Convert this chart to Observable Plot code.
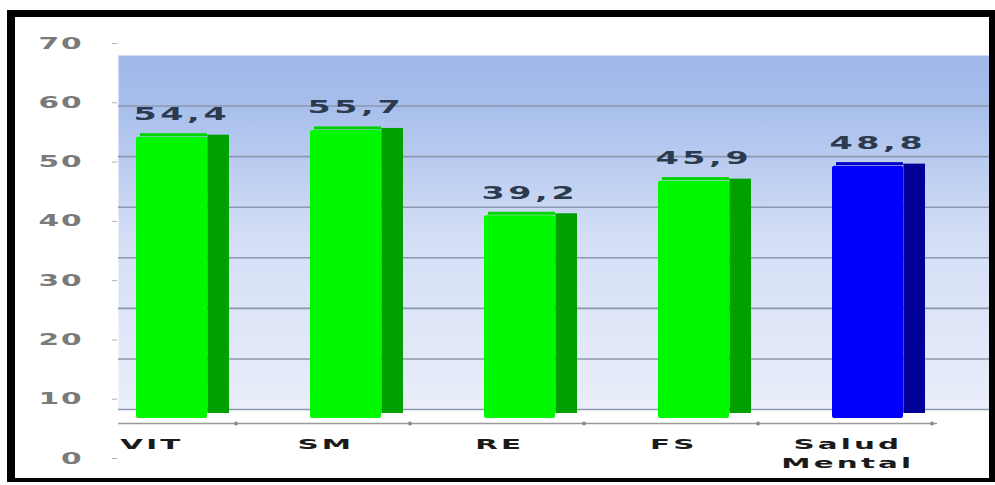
<!DOCTYPE html>
<html>
<head>
<meta charset="utf-8">
<script src="https://cdn.jsdelivr.net/npm/d3@7"></script>
<script src="https://cdn.jsdelivr.net/npm/@observablehq/plot@0.6"></script>
<style>
  html, body { margin: 0; padding: 0; background: #ffffff; }
  #chart { position: relative; width: 995px; height: 485px; overflow: hidden; background: #ffffff; }
  #chart svg { position: absolute; left: 0; top: 0; background: transparent; }
  #border { position: absolute; left: 7px; top: 10px; width: 974px; height: 461px;
            border-style: solid; border-color: #000; border-width: 7px 7px 4px 8px; }
</style>
</head>
<body>
<div id="chart"><div id="border"></div></div>
<script>
// ---- data ----
const categories = ["VIT", "SM", "RE", "FS", "Salud Mental"];
const values = [54.4, 55.7, 39.2, 45.9, 48.8];
const yTicks = [0, 10, 20, 30, 40, 50, 60, 70];
const gridValues = [0, 10, 20, 30, 40, 50, 60];
const highlight = "Salud Mental";

const data = categories.map((c, i) => ({cat: c, value: values[i]}));
const fmt = v => v.toFixed(1).replace(".", ",");

const W = 995, H = 485;
const FONT = "DejaVu Sans, sans-serif";

// widen glyphs around each text's own anchor (reference text is stretched horizontally)
function stretch(texts, factor, ls) {
  Array.from(texts).forEach(t => {
    if (ls) t.style.letterSpacing = ls + "px";
    const bb = t.getBBox();
    const anchor = getComputedStyle(t).textAnchor;
    const trail = ls || 0;
    const lx = anchor === "middle" ? bb.x + (bb.width - trail) / 2
             : anchor === "end" ? bb.x + bb.width - trail : bb.x;
    const ly = bb.y + bb.height / 2;
    let ax = lx;
    const list = t.transform && t.transform.baseVal;
    if (list && list.numberOfItems > 0) {
      const m = list.consolidate().matrix;
      ax = m.a * lx + m.c * ly + m.e;
    }
    const g = document.createElementNS("http://www.w3.org/2000/svg", "g");
    g.setAttribute("transform", `translate(${ax},0) scale(${factor},1) translate(${-ax},0)`);
    t.parentNode.insertBefore(g, t);
    g.appendChild(t);
  });
}

// ---- back wall (its own depth plane) ----
const wallDefs = () => {
  const defs = d3.create("svg:defs");
  const g = defs.append("linearGradient").attr("id", "wallGrad")
    .attr("x1", 0).attr("y1", 0).attr("x2", 0).attr("y2", 1);
  g.append("stop").attr("offset", "0%").attr("stop-color", "#9fb8ea");
  g.append("stop").attr("offset", "15%").attr("stop-color", "#a8bfec");
  g.append("stop").attr("offset", "50%").attr("stop-color", "#d2ddf5");
  g.append("stop").attr("offset", "100%").attr("stop-color", "#eaeefa");
  return defs.node();
};

const wall = Plot.plot({
  width: W, height: H,
  marginTop: 55, marginBottom: 76, marginLeft: 118, marginRight: 5,
  style: {background: "transparent"},
  x: {axis: null},
  y: {domain: [0, 70], axis: null},
  marks: [
    wallDefs,
    Plot.frame({fill: "url(#wallGrad)", stroke: "none"}),
    Plot.ruleY(gridValues, {stroke: "#8c98ad", strokeWidth: 1.6})
  ]
});

// ---- value axis (front plane labels) ----
const axis = Plot.plot({
  width: W, height: H,
  marginTop: 43, marginBottom: 27, marginLeft: 117, marginRight: 5,
  style: {background: "transparent"},
  x: {axis: null},
  y: {domain: [0, 70], axis: null},
  marks: [
    Plot.axisY(yTicks, {
      tickSize: 5, tickPadding: 30, fontSize: 16, fontWeight: "bold",
      fontFamily: FONT, fill: "#7a7a7a", stroke: "#b0b0b0", label: null
    })
  ]
});

// ---- bars ----
const step = 870 / 5, bw = step * 0.41;
const frontColor = d => d.cat === highlight ? "#0000fa" : "#00f800";
const sideColor = d => d.cat === highlight ? "#000096" : "#00a000";
const topColor = d => d.cat === highlight ? "#0000c8" : "#00d400";

const bars = Plot.plot({
  width: W, height: H,
  marginTop: 56, marginBottom: 67, marginLeft: 85, marginRight: 40,
  style: {background: "transparent"},
  x: {domain: categories, paddingInner: 0.59, paddingOuter: 0.295, axis: null},
  y: {domain: [0, 70], axis: null},
  marks: [
    Plot.ruleY([0], {dy: 5, stroke: "#9a9a9a", strokeWidth: 1.5, insetLeft: 33, insetRight: 18}),
    Plot.dot(data, {x: "cat", frameAnchor: "bottom", dx: 64, dy: 5, r: 2, fill: "#8a8a8a"}),
    Plot.barY(data, {x: "cat", y: "value", fill: sideColor, dx: bw, insetRight: bw - 22, dy: -2, insetBottom: 3}),
    Plot.barY(data, {x: "cat", y: "value", fill: frontColor, rx: 2}),
    Plot.barY(data, {x: "cat", y1: "value", y2: "value", fill: topColor, insetTop: -3, insetLeft: 4, dy: -0.5}),
    Plot.text(data, {
      x: "cat", y: "value", text: d => fmt(d.value), dy: -23, dx: 9,
      fontSize: 18, fontWeight: "bold", fontFamily: FONT, fill: "#2b3a4e"
    }),
    Plot.text(data, {
      x: "cat", frameAnchor: "bottom", text: d => d.cat.replace(" ", "\n"),
      dx: -21, dy: 17, lineAnchor: "top", lineHeight: 1.35,
      fontSize: 14, fontWeight: "bold", fontFamily: FONT, fill: "#1a1a1a"
    })
  ]
});

const chart = document.getElementById("chart");
const border = document.getElementById("border");
chart.insertBefore(wall, border);
chart.insertBefore(axis, border);
chart.insertBefore(bars, border);

// stretch after the SVGs are in the document (so text can be measured)
stretch(axis.querySelectorAll('g[aria-label="y-axis tick label"] text'), 1.85, 1);
const textGroups = bars.querySelectorAll('g[aria-label="text"]');
if (textGroups[0]) stretch(textGroups[0].querySelectorAll("text"), 1.85, 2);
if (textGroups[1]) stretch(textGroups[1].querySelectorAll("text"), 2.1, 1.5);
</script>
</body>
</html>
